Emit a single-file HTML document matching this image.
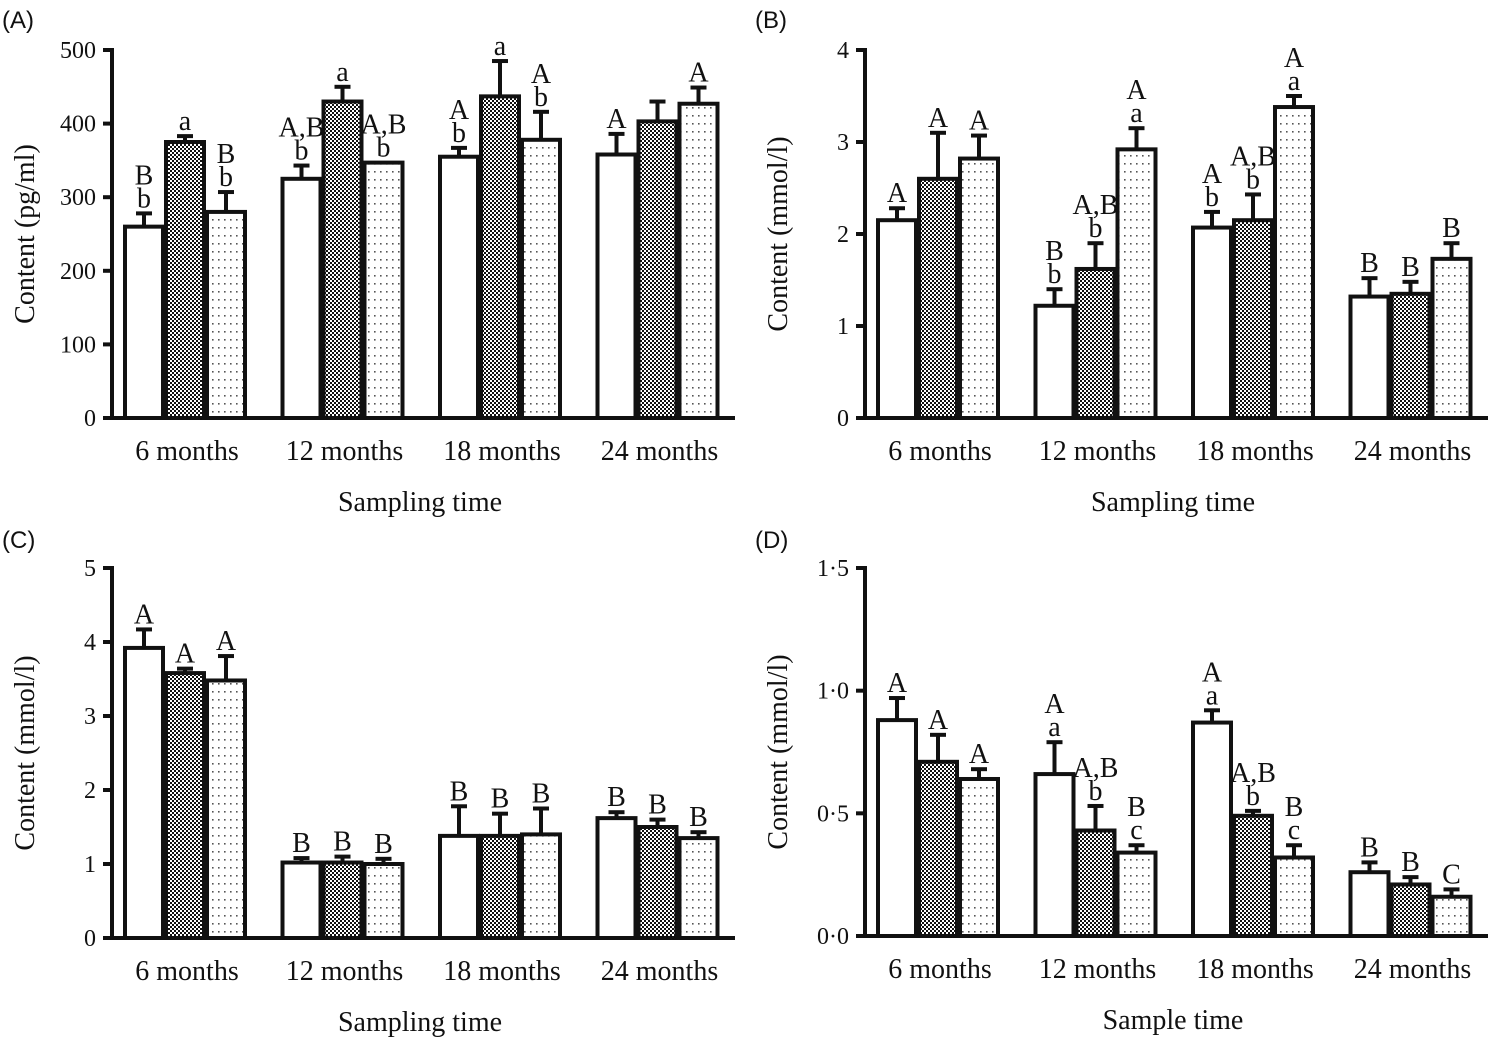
<!DOCTYPE html>
<html><head><meta charset="utf-8"><style>
html,body{margin:0;padding:0;background:#fff}
svg{display:block}
text{font-family:"Liberation Serif",serif;fill:#111}
</style></head><body>
<svg id="chart" width="1503" height="1050" viewBox="0 0 1503 1050" xmlns="http://www.w3.org/2000/svg">
<defs>
<pattern id="dark" width="4" height="4" patternUnits="userSpaceOnUse">
<rect width="4" height="4" fill="#fff"/><rect width="2" height="2" fill="#111"/><rect x="2" y="2" width="2" height="2" fill="#111"/>
</pattern>
<pattern id="dots" width="6" height="8" patternUnits="userSpaceOnUse">
<rect width="6" height="8" fill="#fff"/><rect x="2" y="3" width="1.6" height="1.6" fill="#555"/>
</pattern>
</defs>
</svg>
<script>
const categories = ["6 months","12 months","18 months","24 months"];
const valsA = [[260,375,280],[325,430,347],[355,437,378],[358,403,427]];
const errA  = [[18,8,27],[18,20,0],[12,48,38],[28,27,22]];
const labA  = [["B\nb","a","B\nb"],["A,B\nb","a","A,B\nb"],["A\nb","a","A\nb"],["A","","A"]];
const valsB = [[2.15,2.6,2.82],[1.22,1.62,2.92],[2.07,2.15,3.38],[1.32,1.35,1.73]];
const errB  = [[0.13,0.5,0.25],[0.18,0.28,0.23],[0.17,0.28,0.12],[0.2,0.13,0.17]];
const labB  = [["A","A","A"],["B\nb","A,B\nb","A\na"],["A\nb","A,B\nb","A\na"],["B","B","B"]];
const valsC = [[3.92,3.58,3.48],[1.02,1.02,1.0],[1.38,1.38,1.4],[1.62,1.5,1.35]];
const errC  = [[0.25,0.06,0.33],[0.06,0.08,0.07],[0.4,0.3,0.35],[0.08,0.1,0.08]];
const labC  = [["A","A","A"],["B","B","B"],["B","B","B"],["B","B","B"]];
const valsD = [[0.88,0.71,0.64],[0.66,0.43,0.34],[0.87,0.49,0.32],[0.26,0.21,0.16]];
const errD  = [[0.09,0.11,0.04],[0.13,0.1,0.03],[0.05,0.02,0.05],[0.04,0.03,0.03]];
const labD  = [["A","A","A"],["A\na","A,B\nb","B\nc"],["A\na","A,B\nb","B\nc"],["B","B","C"]];
const ticksA = ["0","100","200","300","400","500"];
const ticksB = ["0","1","2","3","4"];
const ticksC = ["0","1","2","3","4","5"];
const ticksD = ["0·0","0·5","1·0","1·5"];

const svg = document.getElementById('chart');
const NS = 'http://www.w3.org/2000/svg';
function el(tag, attrs, parent){const e=document.createElementNS(NS,tag);for(const k in attrs)e.setAttribute(k,attrs[k]);(parent||svg).appendChild(e);return e;}
const fills = ['#fff','url(#dark)','url(#dots)'];

function panel(id, ox, oy, base, top, ymax, ticks, vals, errs, labs, ytitle, xtitle){
  const g = el('g',{});
  
  
  const ax = ox+112, axEnd = ox+735;
  const y = v => base - v/ymax*(base-top);
  const pitch = 157.5, bw = 38, gap = 3;
  const lab = el('text',{x:ox+2,y:oy+28,'font-size':24,style:'font-family:"Liberation Sans",sans-serif'},g); lab.textContent='('+id+')';
   
  vals.forEach((grp,i)=>{
    grp.forEach((v,j)=>{
      const x = ax+13+i*pitch+j*(bw+gap);
      const r = el('rect',{x:x,y:y(v),width:bw,height:base-y(v),fill:fills[j],stroke:'#111','stroke-width':4},g);
      
      
      const cx = x+bw/2, et = y(v+errs[i][j]);
      if(errs[i][j]>0){
        el('line',{x1:cx,y1:y(v),x2:cx,y2:et,stroke:'#111','stroke-width':4},g);
        el('line',{x1:cx-8,y1:et,x2:cx+8,y2:et,stroke:'#111','stroke-width':4},g);
      }
      const lines = labs[i][j] ? labs[i][j].split('\n') : [];
      lines.forEach((s,k)=>{
        const t = el('text',{x:cx,y:et-6-(lines.length-1-k)*23,'text-anchor':'middle','font-size':28},g);
        t.textContent = s;
        
        
      });
    });
    const ct = el('text',{x:ax+13+i*pitch+62,y:base+42,'text-anchor':'middle','font-size':28},g);
    ct.textContent = categories[i];
    
    
  });
  el('line',{x1:ax,y1:top-2,x2:ax,y2:base+2,stroke:'#111','stroke-width':4},g);
  el('line',{x1:ax-2,y1:base,x2:axEnd,y2:base,stroke:'#111','stroke-width':4},g);
  ticks.forEach((tl,k)=>{
    const ty = base - k*(base-top)/(ticks.length-1);
    el('line',{x1:ax-9,y1:ty,x2:ax,y2:ty,stroke:'#111','stroke-width':4},g);
    const t = el('text',{x:ax-16,y:ty+8,'text-anchor':'end','font-size':24},g);
    t.textContent = tl;
    
    
  });
  const yt = el('text',{x:0,y:0,'text-anchor':'middle','font-size':28,transform:'translate('+(ox+34)+','+((top+base)/2)+') rotate(-90)'},g);
  yt.textContent = ytitle;
  
  
  const xt = el('text',{x:ox+420,y:base+93,'text-anchor':'middle','font-size':28},g);
  xt.textContent = xtitle;
  
  
}
panel('A',0,0,418,50,500,ticksA,valsA,errA,labA,'Content (pg/ml)','Sampling time');
panel('B',753,0,418,50,4,ticksB,valsB,errB,labB,'Content (mmol/l)','Sampling time');
panel('C',0,520,938,568,5,ticksC,valsC,errC,labC,'Content (mmol/l)','Sampling time');
panel('D',753,520,936,568,1.5,ticksD,valsD,errD,labD,'Content (mmol/l)','Sample time');
</script>
</body></html>
